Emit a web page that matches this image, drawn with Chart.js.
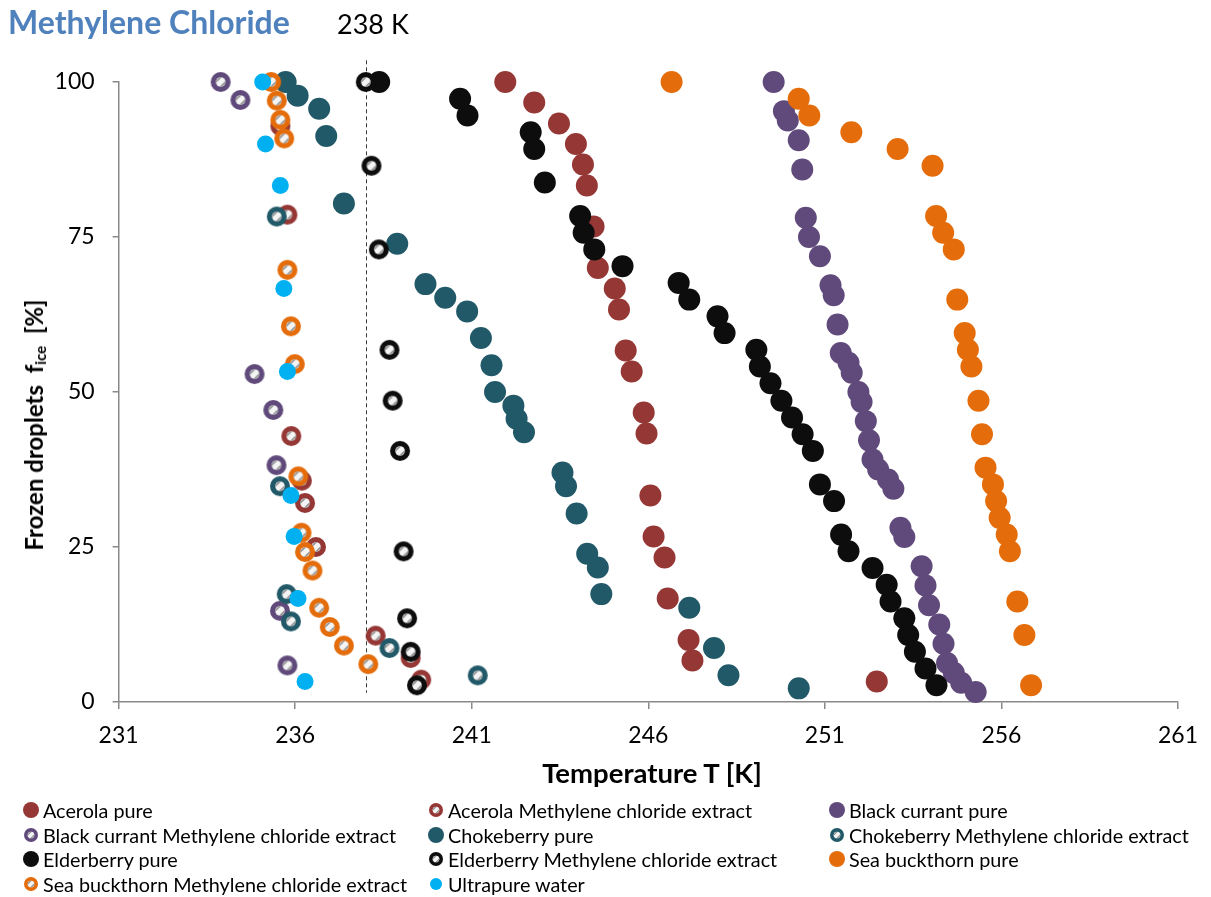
<!DOCTYPE html>
<html>
<head>
<meta charset="utf-8">
<script src="https://cdn.jsdelivr.net/npm/chart.js@4.4.1/dist/chart.umd.min.js"></script>
<style>
  body { margin: 0; background: #fff; font-family: Lato, sans-serif; }
  #wrap { position: relative; width: 1211px; height: 897px; overflow: hidden; }
  #chart { position: absolute; left: 0; top: 0; }
  .txt { position: absolute; white-space: nowrap; line-height: 1; }
  #title { left: 8px; top: 6px; font-size: 32px; font-weight: bold; color: #4F81BD; }
  #ref { left: 337px; top: 10px; font-size: 27px; color: #000; }
  #xtitle { left: 652px; top: 773px; transform: translate(-50%, -50%); font-size: 27.5px; font-weight: bold; }
  #ytitle { left: 35px; top: 425px; transform: translate(-50%, -50%) rotate(-90deg); font-size: 24px; font-weight: bold; }
  #ytitle sub { font-size: 15px; vertical-align: -3px; }
  .leg { position: absolute; display: flex; align-items: center; font-size: 19.8px; white-space: nowrap; transform: translateY(-50%); }
  .leg canvas { margin-right: 3px; }
</style>
</head>
<body>
<div id="wrap">
  <canvas id="chart" width="1211" height="897"></canvas>
  <div class="txt" id="title">Methylene Chloride</div>
  <div class="txt" id="ref">238 K</div>
  <div class="txt" id="xtitle">Temperature T [K]</div>
  <div class="txt" id="ytitle">Frozen droplets&nbsp; f<sub>ice</sub>&nbsp; [%]</div>
  <div id="legend"></div>
</div>
<script>
// temperatures [K] and frozen fraction [%] per series
var acerolaPureT = [241.95, 242.77, 243.47, 243.95, 244.15, 244.26, 244.45, 244.57, 245.05, 245.17, 245.36, 245.53, 245.87, 245.95, 246.06, 246.15, 246.46, 246.55, 247.14, 247.25, 252.47];
var acerolaPureF = [100, 96.7, 93.3, 90.0, 86.7, 83.3, 76.7, 70.0, 66.7, 63.3, 56.7, 53.3, 46.7, 43.3, 33.3, 26.7, 23.3, 16.7, 10.0, 6.7, 3.3];

var acerolaExtT = [235.58, 235.78, 235.89, 236.19, 236.28, 236.59, 238.28, 239.27, 239.57];
var acerolaExtF = [92.9, 78.6, 42.9, 35.7, 32.1, 25.0, 10.7, 7.1, 3.6];

var currantPureT = [249.55, 249.84, 249.95, 250.26, 250.36, 250.46, 250.55, 250.86, 251.16, 251.25, 251.36, 251.45, 251.67, 251.76, 251.95, 252.04, 252.16, 252.25, 252.35, 252.51, 252.79, 252.94, 253.14, 253.25, 253.74, 253.85, 253.95, 254.24, 254.36, 254.46, 254.65, 254.86, 255.27];
var currantPureF = [100, 95.3, 93.8, 90.6, 85.9, 78.1, 75.0, 71.9, 67.2, 65.6, 60.9, 56.3, 54.7, 53.1, 50.0, 48.4, 45.3, 42.2, 39.1, 37.5, 35.9, 34.4, 28.1, 26.6, 21.9, 18.8, 15.6, 12.5, 9.4, 6.3, 4.7, 3.1, 1.6];

var currantExtT = [233.89, 234.45, 234.85, 235.38, 235.47, 235.57, 235.78];
var currantExtF = [100, 97.1, 52.9, 47.1, 38.2, 14.7, 5.9];

var chokePureT = [235.73, 236.07, 236.68, 236.88, 237.38, 238.89, 239.69, 240.25, 240.87, 241.26, 241.56, 241.66, 242.18, 242.27, 242.48, 243.57, 243.67, 243.97, 244.27, 244.57, 244.67, 247.16, 247.86, 248.27, 250.26];
var chokePureF = [100, 97.8, 95.7, 91.3, 80.4, 73.9, 67.4, 65.2, 63.0, 58.7, 54.3, 50.0, 47.8, 45.7, 43.5, 37.0, 34.8, 30.4, 23.9, 21.7, 17.4, 15.2, 8.7, 4.3, 2.2];

var chokeExtT = [235.48, 235.57, 235.76, 235.88, 238.67, 241.17];
var chokeExtF = [78.3, 34.8, 17.4, 13.0, 8.7, 4.3];

var elderPureT = [238.38, 240.67, 240.88, 242.67, 242.77, 243.07, 244.07, 244.17, 244.47, 245.27, 246.86, 247.16, 247.96, 248.16, 249.06, 249.16, 249.46, 249.77, 250.07, 250.37, 250.66, 250.86, 251.26, 251.46, 251.67, 252.35, 252.75, 252.86, 253.25, 253.36, 253.55, 253.85, 254.16];
var elderPureF = [100, 97.3, 94.6, 91.9, 89.2, 83.8, 78.4, 75.7, 73.0, 70.3, 67.6, 64.9, 62.2, 59.5, 56.8, 54.1, 51.4, 48.6, 45.9, 43.2, 40.5, 35.1, 32.4, 27.0, 24.3, 21.6, 18.9, 16.2, 13.5, 10.8, 8.1, 5.4, 2.7];

var elderExtT = [238.0, 238.16, 238.37, 238.67, 238.76, 238.97, 239.07, 239.17, 239.27, 239.45];
var elderExtF = [100, 86.5, 73.0, 56.8, 48.6, 40.5, 24.3, 13.5, 8.1, 2.7];

var seaPureT = [246.66, 250.26, 250.56, 251.75, 253.06, 254.05, 254.15, 254.35, 254.65, 254.75, 254.96, 255.05, 255.15, 255.35, 255.45, 255.55, 255.76, 255.85, 255.95, 256.15, 256.24, 256.45, 256.65, 256.84];
var seaPureF = [100, 97.3, 94.6, 91.9, 89.2, 86.5, 78.4, 75.7, 73.0, 64.9, 59.5, 56.8, 54.1, 48.6, 43.2, 37.8, 35.1, 32.4, 29.7, 27.0, 24.3, 16.2, 10.8, 2.7];

var seaExtT = [235.32, 235.48, 235.58, 235.69, 235.78, 235.88, 235.99, 236.09, 236.18, 236.28, 236.49, 236.68, 236.98, 237.38, 238.07];
var seaExtF = [100, 97.0, 93.9, 90.9, 69.7, 60.6, 54.5, 36.4, 27.3, 24.2, 21.2, 15.2, 12.1, 9.1, 6.1];

var waterT = [235.08, 235.16, 235.58, 235.68, 235.78, 235.88, 235.97, 236.08, 236.28];
var waterF = [100, 90.0, 83.3, 66.7, 53.3, 33.3, 26.7, 16.7, 3.3];

var xTicks = [231, 236, 241, 246, 251, 256, 261];
var yTicks = [0, 25, 50, 75, 100];
var refT = 238;          // dashed reference line
var refRange = [1.5, 103.5];

// marker helpers
function drawMarker(ctx, cx, cy, r, color, hatched) {
    ctx.beginPath();
    ctx.arc(cx, cy, r, 0, Math.PI * 2);
    ctx.fillStyle = color;
    ctx.fill();
    if (!hatched) return;
    var ri = r * 0.48;
    ctx.save();
    ctx.beginPath();
    ctx.arc(cx, cy, ri, 0, Math.PI * 2);
    ctx.fillStyle = '#f4f4f4';
    ctx.fill();
    ctx.clip();
    // wide upward diagonal hatch
    ctx.strokeStyle = '#8f8f8f';
    ctx.lineWidth = Math.max(1.2, r * 0.16);
    [-0.5, 0.5].forEach(function (k) {
        var o = k * ri;
        ctx.beginPath();
        ctx.moveTo(cx - ri + o, cy + ri + o);
        ctx.lineTo(cx + ri + o, cy - ri + o);
        ctx.stroke();
    });
    ctx.restore();
}

function markerImage(r, color, hatched) {
    var c = document.createElement('canvas');
    var s = Math.ceil(r * 2 + 2);
    c.width = s; c.height = s;
    drawMarker(c.getContext('2d'), s / 2, s / 2, r, color, hatched);
    return c;
}

function pts(T, F) {
    return T.map(function (t, i) { return {x: t, y: F[i]}; });
}

var series = [
    {label: 'Acerola pure', T: acerolaPureT, F: acerolaPureF, color: '#953735', kind: 'pure'},
    {label: 'Acerola Methylene chloride extract', T: acerolaExtT, F: acerolaExtF, color: '#953735', kind: 'ext'},
    {label: 'Black currant pure', T: currantPureT, F: currantPureF, color: '#604A7B', kind: 'pure'},
    {label: 'Black currant Methylene chloride extract', T: currantExtT, F: currantExtF, color: '#604A7B', kind: 'ext'},
    {label: 'Chokeberry pure', T: chokePureT, F: chokePureF, color: '#215968', kind: 'pure'},
    {label: 'Chokeberry Methylene chloride extract', T: chokeExtT, F: chokeExtF, color: '#215968', kind: 'ext'},
    {label: 'Elderberry pure', T: elderPureT, F: elderPureF, color: '#0D0D0D', kind: 'pure'},
    {label: 'Elderberry Methylene chloride extract', T: elderExtT, F: elderExtF, color: '#0D0D0D', kind: 'ext'},
    {label: 'Sea buckthorn pure', T: seaPureT, F: seaPureF, color: '#E46C0A', kind: 'pure'},
    {label: 'Sea buckthorn Methylene chloride extract', T: seaExtT, F: seaExtF, color: '#E46C0A', kind: 'ext'},
    {label: 'Ultrapure water', T: waterT, F: waterF, color: '#00B0F0', kind: 'water'}
];

var datasets = series.map(function (s, i) {
    var d = {
        label: s.label,
        data: pts(s.T, s.F),
        clip: false,
        order: series.length - i,
        pointBorderWidth: 0,
        pointBackgroundColor: s.color,
        pointBorderColor: s.color
    };
    if (s.kind === 'ext') {
        d.pointStyle = markerImage(10, s.color, true);
        d.pointRadius = 10;
    } else {
        d.pointStyle = 'circle';
        d.pointRadius = s.kind === 'water' ? 8.5 : 11;
    }
    return d;
});

// dashed 238 K line
var refLine = {
    id: 'refLine',
    beforeDatasetsDraw: function (chart) {
        var x = chart.scales.x.getPixelForValue(refT);
        var ctx = chart.ctx;
        ctx.save();
        ctx.strokeStyle = '#3a3a3a';
        ctx.lineWidth = 1;
        ctx.setLineDash([4, 3]);
        ctx.beginPath();
        ctx.moveTo(Math.round(x) + 0.5, chart.scales.y.getPixelForValue(refRange[1]));
        ctx.lineTo(Math.round(x) + 0.5, chart.scales.y.getPixelForValue(refRange[0]));
        ctx.stroke();
        ctx.restore();
    }
};

var axisColor = '#898989';
var tickFont = {family: 'Lato', size: 23};

new Chart(document.getElementById('chart'), {
    type: 'scatter',
    data: {datasets: datasets},
    options: {
        responsive: false,
        animation: false,
        layout: {padding: {left: 0, top: 82, right: 28, bottom: 0}},
        plugins: {legend: {display: false}, tooltip: {enabled: false}},
        scales: {
            x: {
                type: 'linear', min: xTicks[0], max: xTicks[xTicks.length - 1],
                afterBuildTicks: function (s) { s.ticks = xTicks.map(function (v) { return {value: v}; }); },
                ticks: {font: tickFont, color: '#000', padding: 13, maxRotation: 0},
                grid: {drawOnChartArea: false, tickLength: 7, color: axisColor, lineWidth: 1.5},
                border: {color: axisColor, width: 1.5},
                afterFit: function (s) { s.height = 195; }
            },
            y: {
                min: yTicks[0], max: yTicks[yTicks.length - 1],
                afterBuildTicks: function (s) { s.ticks = yTicks.map(function (v) { return {value: v}; }); },
                ticks: {font: tickFont, color: '#000', padding: 18},
                grid: {drawOnChartArea: false, tickLength: 6, color: axisColor, lineWidth: 1.5},
                border: {color: axisColor, width: 1.5},
                afterFit: function (s) { s.width = 118.6; }
            }
        }
    },
    plugins: [refLine]
});

// legend, three columns
var legCols = [22, 427, 828];
var legRows = [810, 834.5, 859, 884];
var legend = document.getElementById('legend');
series.forEach(function (s, i) {
    var el = document.createElement('div');
    el.className = 'leg';
    el.style.left = legCols[i % 3] + 'px';
    el.style.top = legRows[Math.floor(i / 3)] + 'px';
    var r = s.kind === 'pure' ? 8 : (s.kind === 'ext' ? 7 : 6);
    var c = document.createElement('canvas');
    c.width = 18; c.height = 18;
    drawMarker(c.getContext('2d'), 9, 9, r, s.color, s.kind === 'ext');
    el.appendChild(c);
    var t = document.createElement('span');
    t.textContent = s.label;
    el.appendChild(t);
    legend.appendChild(el);
});
</script>
</body>
</html>
